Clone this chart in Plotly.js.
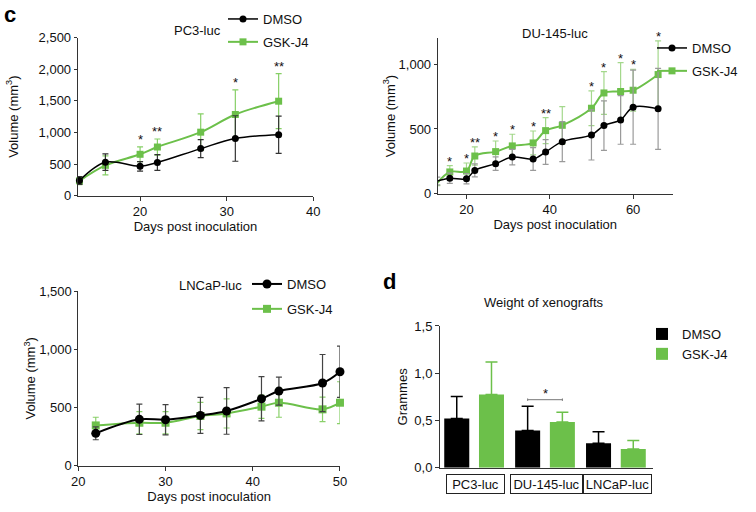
<!DOCTYPE html>
<html>
<head>
<meta charset="utf-8">
<script src="https://cdn.plot.ly/plotly-3.0.1.min.js"></script>
<style>html,body{margin:0;padding:0;background:#fff}#chart{width:756px;height:512px}</style>
</head>
<body>
<div id="chart"></div>
<script>
// ---------- data ----------
// Panel c, PC3-luc
const pc3Days = [13, 16, 20, 22, 27, 31, 36];
const pc3Dmso = [240, 530, 465, 525, 745, 905, 965];
const pc3DmsoErr = [60, 130, 75, 125, 143, 360, 295];
const pc3Gsk = [235, 480, 655, 770, 1005, 1285, 1495];
const pc3GskErr = [60, 150, 116, 127, 290, 390, 435];
const pc3Sig = ['', '', '*', '**', '', '*', '**'];

// Panel c, DU-145-luc
const duDays = [13, 16, 20, 22, 27, 31, 36, 39, 43, 50, 53, 57, 60, 66];
const duDmso = [98, 119, 116, 180, 232, 283, 268, 322, 402, 454, 526, 570, 668, 655];
const duDmsoErr = [30, 40, 40, 50, 52, 60, 88, 95, 155, 194, 191, 188, 286, 312];
const duGsk = [82, 168, 175, 291, 325, 369, 392, 487, 528, 660, 778, 789, 799, 920];
const duGskErr = [20, 48, 62, 70, 82, 90, 92, 100, 145, 134, 165, 223, 162, 260];
const duSig = ['', '*', '*', '**', '*', '*', '*', '**', '', '*', '*', '*', '*', '*'];

// Panel c, LNCaP-luc
const lnDays = [22, 27, 30, 34, 37, 41, 43, 48, 50];
const lnDmso = [278, 398, 395, 432, 470, 575, 641, 710, 807];
const lnDmsoErr = [55, 130, 130, 155, 200, 190, 120, 245, 220];
const lnGsk = [346, 369, 369, 427, 449, 507, 541, 484, 541];
const lnGskErr = [70, 95, 95, 117, 125, 100, 125, 105, 180];

// Panel d, weight of xenografts
const wCats = ['PC3-luc', 'DU-145-luc', 'LNCaP-luc'];
const wDmso = [0.52, 0.395, 0.258];
const wDmsoErr = [0.235, 0.255, 0.123];
const wGsk = [0.776, 0.484, 0.198];
const wGskErr = [0.343, 0.102, 0.091];
const wSigCat = 1;
const wSigText = '*';
const wSigY = 0.72;

const seriesNames = ['DMSO', 'GSK-J4'];
const pc3Ticks = [0, 500, 1000, 1500, 2000, 2500];
const duTicks = [0, 500, 1000];
const lnTicks = [0, 500, 1000, 1500];
const wTicks = [0, 0.5, 1.0, 1.5];
const wTickText = ['0,0', '0,5', '1,0', '1,5'];

// ---------- styles ----------
const GREEN = '#6cc04a';
const BLACK = '#000000';
const TXT = '#111111';
const FONT = 'Arial, "Liberation Sans", Helvetica, sans-serif';
const boxWidths = [53, 67, 63];

function lineTrace(x, y, err, name, color, errColor, symbol, size, xa, ya, legend, width) {
  return {
    type: 'scatter', mode: 'lines+markers', x: x, y: y, name: name,
    xaxis: xa, yaxis: ya, legend: legend, legendgroup: legend + name,
    legendrank: name === seriesNames[0] ? 1 : 2,
    line: {color: color, width: width, shape: 'spline', smoothing: 1},
    marker: {color: color, symbol: symbol, size: size},
    error_y: {type: 'data', array: err, visible: true, color: errColor, thickness: 1.2, width: 3},
    cliponaxis: false, hoverinfo: 'x+y'
  };
}

const traces = [
  lineTrace(pc3Days, pc3Gsk, pc3GskErr, seriesNames[1], GREEN, '#86cf66', 'square', 7, 'x', 'y', 'legend', 2),
  lineTrace(pc3Days, pc3Dmso, pc3DmsoErr, seriesNames[0], BLACK, '#333333', 'circle', 7, 'x', 'y', 'legend', 1.5),
  lineTrace(duDays, duGsk, duGskErr, seriesNames[1], GREEN, '#a4d88c', 'square', 7, 'x2', 'y2', 'legend2', 2),
  lineTrace(duDays, duDmso, duDmsoErr, seriesNames[0], BLACK, '#9a9a9a', 'circle', 7, 'x2', 'y2', 'legend2', 1.5),
  lineTrace(lnDays, lnGsk, lnGskErr, seriesNames[1], GREEN, '#8ad06a', 'square', 8, 'x3', 'y3', 'legend3', 2),
  lineTrace(lnDays, lnDmso, lnDmsoErr, seriesNames[0], BLACK, '#444444', 'circle', 9, 'x3', 'y3', 'legend3', 2)
];
const barD = {
  type: 'bar', x: wCats.map((c, i) => i), y: wDmso, name: seriesNames[0],
  xaxis: 'x4', yaxis: 'y4', legend: 'legend4', legendgroup: 'bD', legendrank: 1,
  width: 0.353, offset: -0.44, marker: {color: BLACK},
  error_y: {type: 'data', symmetric: false, array: wDmsoErr, arrayminus: wDmsoErr.map(() => 0), color: BLACK, thickness: 1.5, width: 6}
};
const barG = {
  type: 'bar', x: wCats.map((c, i) => i), y: wGsk, name: seriesNames[1],
  xaxis: 'x4', yaxis: 'y4', legend: 'legend4', legendgroup: 'bG', legendrank: 2,
  width: 0.353, offset: 0.05, marker: {color: GREEN},
  error_y: {type: 'data', symmetric: false, array: wGskErr, arrayminus: wGskErr.map(() => 0), color: GREEN, thickness: 1.5, width: 6}
};
traces.push(barD, barG);

// ---------- axes ----------
const baseAxis = {
  showline: true, linecolor: '#333', linewidth: 1, ticks: 'outside', ticklen: 4,
  tickcolor: '#333', showgrid: false, zeroline: false, fixedrange: true,
  tickfont: {family: FONT, size: 13, color: TXT}
};
function ax(extra) { return Object.assign({}, baseAxis, extra); }
const xTitle = (s) => ({text: 'Days post inoculation', font: {family: FONT, size: 13, color: TXT}, standoff: s});
const yTitle = (t, s) => ({text: t, font: {family: FONT, size: 13, color: TXT}, standoff: s});
const volTitle = 'Volume (mm<sup>3</sup>)';
const legBase = {xanchor: 'left', yanchor: 'top', bgcolor: 'rgba(0,0,0,0)', font: {family: FONT, size: 13, color: TXT}, traceorder: 'grouped'};
const leg = (x, y, gap) => Object.assign({}, legBase, {x: x / 756, y: 1 - y / 512, tracegroupgap: gap});

const layout = {
  width: 756, height: 512, margin: {l: 0, r: 0, t: 0, b: 0},
  paper_bgcolor: '#fff', plot_bgcolor: 'rgba(0,0,0,0)',
  font: {family: FONT, size: 13, color: TXT},
  showlegend: true,
  xaxis: ax({domain: [0.1028, 0.4144], range: [12.8, 40], tickvals: [20, 30, 40], anchor: 'y', title: xTitle(1)}),
  yaxis: ax({domain: [0.6178, 0.9264], range: [0, 2500], tickvals: pc3Ticks, tickformat: ',d', ticklen: 3, anchor: 'x', title: yTitle(volTitle, 17)}),
  xaxis2: ax({domain: [0.579, 0.8898], range: [13.1, 69.5], tickvals: [20, 40, 60], anchor: 'y2', title: xTitle(2)}),
  yaxis2: ax({domain: [0.6217, 0.9252], range: [0, 1200], tickvals: duTicks, tickformat: ',d', ticklen: 3, anchor: 'x2', title: yTitle(volTitle, 0)}),
  xaxis3: ax({domain: [0.1036, 0.4497], range: [20, 50], tickvals: [20, 30, 40, 50], anchor: 'y3', title: xTitle(2)}),
  yaxis3: ax({domain: [0.0904, 0.4316], range: [0, 1500], tickvals: lnTicks, tickformat: ',d', ticklen: 3, anchor: 'x3', title: yTitle(volTitle, 0)}),
  xaxis4: ax({domain: [0.582, 0.8633], range: [-0.5, 2.5], ticks: '', showticklabels: false, anchor: 'y4'}),
  yaxis4: ax({domain: [0.0865, 0.3633], range: [0, 1.5], tickvals: wTicks, ticktext: wTickText, ticklen: 4, anchor: 'x4', title: yTitle('Grammes', 3)}),
  legend: leg(223, 4, 3),
  legend2: leg(652, 33, 3),
  legend3: leg(247, 269, 5),
  legend4: leg(642, 319, 0),
  annotations: [],
  shapes: []
};

const A = layout.annotations;
const txt = (text, x, y, size, extra) => Object.assign({text: text, xref: 'paper', yref: 'paper', x: x / 756, y: 1 - y / 512,
  xanchor: 'center', yanchor: 'middle', showarrow: false, font: {family: FONT, size: size, color: TXT}}, extra || {});
A.push(txt('<b>c</b>', 10, 14, 22, {font: {family: FONT, size: 22, color: '#000'}}));
A.push(txt('<b>d</b>', 389, 281, 22, {font: {family: FONT, size: 22, color: '#000'}}));
A.push(txt('PC3-luc', 197, 30, 13));
A.push(txt('DU-145-luc', 555, 33, 13));
A.push(txt('LNCaP-luc', 210, 285, 13));
A.push(txt('Weight of xenografts', 543, 302, 13));

// significance stars above the highest error bar
function stars(days, a, ae, b, be, sig, xa, ya, shift) {
  days.forEach((d, i) => {
    if (!sig[i]) return;
    A.push({text: sig[i], x: d, y: Math.max(a[i] + ae[i], b[i] + be[i]), xref: xa, yref: ya, xanchor: 'center',
      showarrow: false, yanchor: 'bottom', yshift: shift, font: {family: FONT, size: 13, color: TXT}});
  });
}
stars(pc3Days, pc3Dmso, pc3DmsoErr, pc3Gsk, pc3GskErr, pc3Sig, 'x', 'y', -2);
stars(duDays, duDmso, duDmsoErr, duGsk, duGskErr, duSig, 'x2', 'y2', -5);

// category boxes under bar chart
wCats.forEach((c, i) => {
  A.push({text: c, x: i, xref: 'x4', y: 1 - 484 / 512, yref: 'paper', xanchor: 'center', yanchor: 'middle', showarrow: false,
    width: boxWidths[i], height: 14, align: 'center',
    bordercolor: '#222', borderwidth: 1, borderpad: 2, font: {family: FONT, size: 13, color: TXT}});
});

// significance bracket between DU-145 bars (bar centres from offset + width/2)
const dCenter = wSigCat + barD.offset + barD.width / 2;
const gCenter = wSigCat + barG.offset + barG.width / 2;
const S = layout.shapes;
S.push({type: 'line', xref: 'x4', yref: 'y4', x0: dCenter, x1: gCenter, y0: wSigY, y1: wSigY, line: {color: '#777', width: 1}});
[dCenter, gCenter].forEach(xc => S.push({type: 'line', xref: 'x4', yref: 'y4', x0: xc, x1: xc, y0: wSigY - 0.013, y1: wSigY + 0.013, line: {color: '#777', width: 1}}));
A.push({text: wSigText, x: (dCenter + gCenter) / 2, y: wSigY, xref: 'x4', yref: 'y4', xanchor: 'center', showarrow: false, yanchor: 'bottom', yshift: -3, font: {family: FONT, size: 13, color: TXT}});

Plotly.newPlot('chart', traces, layout, {displayModeBar: false, staticPlot: true});
</script>
</body>
</html>
